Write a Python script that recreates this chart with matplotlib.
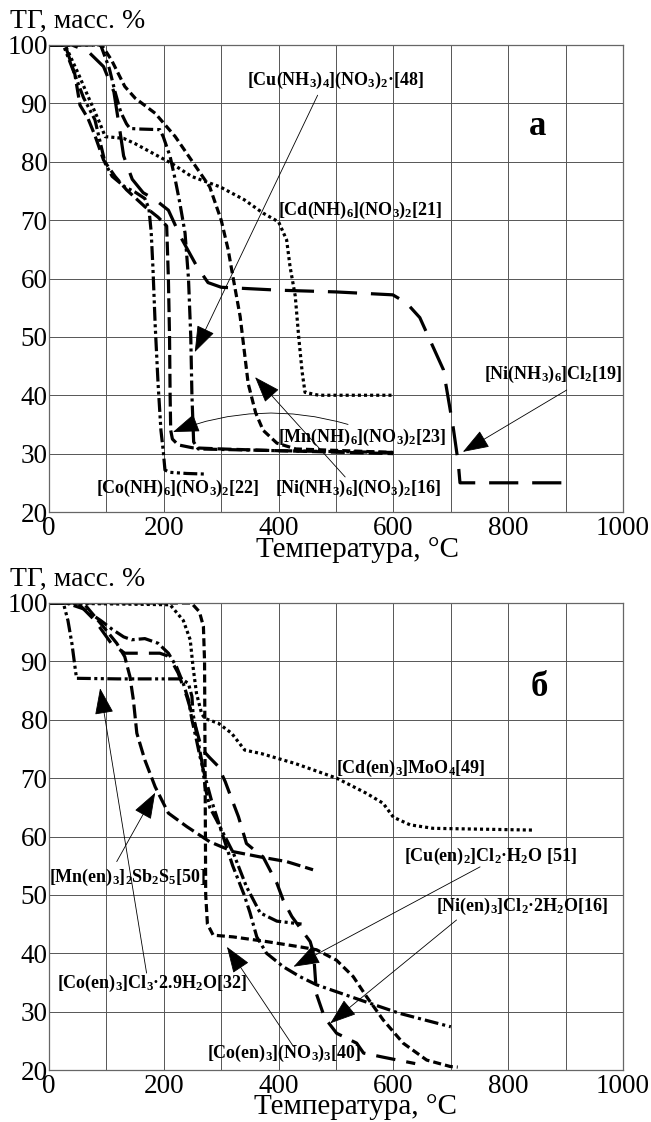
import matplotlib
matplotlib.use("Agg")
import matplotlib.pyplot as plt

plt.rcParams['font.family'] = ['Liberation Serif', 'DejaVu Serif']
plt.rcParams['mathtext.fontset'] = 'custom'
plt.rcParams['mathtext.rm'] = 'Liberation Serif:bold'
plt.rcParams['mathtext.it'] = 'Liberation Serif:bold'
plt.rcParams['mathtext.bf'] = 'Liberation Serif:bold'
plt.rcParams['mathtext.default'] = 'rm'
plt.rcParams['lines.scale_dashes'] = False

# ---------------- panel a data ----------------
cd21_T = [0, 28, 51, 68, 86, 98, 110, 130, 150, 180, 214, 248, 298, 340, 373, 400, 414, 420, 429, 435, 441, 446, 470, 600]
cd21_m = [100, 100, 95.1, 91.2, 87.2, 84.3, 84.2, 84, 83.1, 81.5, 79.7, 77.5, 75.7, 73.5, 71.2, 69.7, 66.6, 62, 57, 50, 44, 40.5, 40, 40]

cu48_T = [0, 90, 105, 115, 125, 135, 141, 160, 193, 199, 211, 220, 228, 237, 243, 247, 249, 252, 260, 400, 600]
cu48_m = [100, 100, 96, 92, 88.5, 86.5, 85.7, 85.6, 85.5, 84.3, 80.9, 76.9, 72.9, 67.8, 60, 50, 40, 32, 30.8, 30.5, 30.2]

ni16_T = [0, 92, 109, 132, 150, 185, 220, 250, 280, 300, 312, 321, 333, 347, 360, 373, 397, 430, 600]
ni16_m = [100, 100, 97.4, 92.9, 90.9, 88.3, 84.3, 80, 75.7, 70, 65, 60, 53.5, 42, 37, 34, 31.8, 30.8, 30.2]

mn23_T = [0, 28, 45, 54, 68, 80, 95, 115, 135, 167, 190, 205, 208, 210, 211, 212, 215, 225, 250, 300, 400, 600]
mn23_m = [100, 100, 95, 89.7, 87.4, 84.5, 80.3, 77.5, 75.2, 72.3, 70.5, 69, 60, 50, 40, 34, 32.5, 31.5, 31, 30.8, 30.5, 30]

co22_T = [0, 25, 42, 60, 80, 90, 98, 110, 132, 150, 167, 174, 178, 181, 185, 190, 195, 199, 202, 210, 240, 272]
co22_m = [100, 100, 95.7, 91, 87.2, 83, 79.7, 77.5, 75.7, 74.8, 73.7, 72, 68, 62, 52, 42, 34, 30.5, 27.2, 26.8, 26.6, 26.5]

ni19_T = [0, 40, 68, 95, 113, 124, 130, 145, 164, 185, 208, 230, 258, 277, 300, 400, 500, 599, 623, 646, 669, 687, 704, 713, 716, 800, 900]
ni19_m = [100, 100, 98.9, 96.3, 92, 85, 81, 77, 74.7, 73.5, 71.7, 67, 62, 59.3, 58.5, 58, 57.7, 57.2, 55.8, 53.3, 48.3, 44.4, 34.6, 28.4, 25, 25, 25]

# ---------------- panel b data ----------------
cden_T = [0, 211, 234, 246, 251, 257, 266, 272, 295, 318, 341, 370, 429, 501, 553, 582, 600, 629, 669, 843]
cden_m = [100, 99.7, 97, 93.7, 89, 84.5, 81, 80.2, 79.4, 77.7, 74.8, 74.2, 72.5, 70, 67.4, 65.7, 63.3, 62, 61.4, 61.1]

coNO3_T = [0, 248, 262, 269, 271, 272, 273, 276, 286, 321, 379, 437, 466, 501, 530, 553, 582, 617, 658, 699, 712]
coNO3_m = [100, 100, 98.5, 96, 90, 70, 50, 45, 43.1, 42.8, 42, 41.1, 40.6, 38.8, 36, 32.6, 28.6, 24.6, 21.7, 20.6, 20.5]

mnen_T = [0, 60, 95, 118, 132, 141, 147, 153, 167, 185, 208, 240, 280, 321, 368, 414, 460]
mnen_m = [100, 100, 95.9, 93.1, 90.8, 87.4, 83.4, 77.7, 73.1, 68.5, 64, 61.7, 59.1, 57.4, 56.5, 55.7, 54.3]

coCl_T = [0, 25, 33, 40, 46, 48, 120, 231, 243, 249, 251, 257, 266, 272, 280, 292, 321, 344, 368, 397, 440]
coCl_m = [100, 100, 97, 93, 88.5, 87.1, 87, 87, 86.2, 84, 81, 77.7, 73, 68.5, 65, 62.8, 57.2, 51.4, 46.9, 45.5, 45]

cuen_T = [0, 30, 60, 90, 110, 130, 144, 167, 190, 208, 222, 234, 243, 249, 257, 263, 272, 283, 300, 320, 340, 350, 362, 379, 408, 437, 466, 542, 611, 700]
cuen_m = [100, 100, 99, 97, 95.5, 94.2, 93.7, 93.9, 93.1, 91.4, 89.1, 86.2, 83.4, 80, 76.5, 73.7, 70.2, 66.2, 61, 55, 50, 47, 42.8, 40, 37.7, 36, 34.6, 32, 29.7, 27.4]

nien_T = [0, 50, 80, 109, 132, 150, 164, 193, 205, 214, 225, 240, 255, 266, 280, 295, 307, 318, 330, 344, 360, 373, 397, 408, 423, 440, 455, 461, 466, 480, 501, 536, 548, 582, 638]
nien_m = [100, 100, 97, 93, 91.4, 91.4, 91.4, 91.4, 91, 90, 88, 84, 79, 75, 73.5, 72, 69.4, 66.5, 63.4, 58.8, 57.5, 56.5, 52, 49.1, 46.3, 44, 42, 40, 33, 29, 26.3, 24.6, 22.9, 22.2, 21.1]

x_ticks = [0, 200, 400, 600, 800, 1000]
y_ticks = [20, 30, 40, 50, 60, 70, 80, 90, 100]

DOT = (0, (2.2, 2.2))
SDASH = (0, (5.8, 2.9))
LDASH = (0, (10, 3.6))
DASHDOT = (0, (10, 2.9, 2.2, 2.9))
DASHDOTDOT = (0, (10, 2.5, 2.2, 2.5, 2.2, 2.5))
XLDASH = (0, (21, 10))
BDASH = (0, (14, 8))

LW = 2.3
W, H = 651, 1122
fig = plt.figure(figsize=(W / 100, H / 100), dpi=100)

def make_ax(top_px):
    ax = fig.add_axes([49 / W, 1 - (top_px + 467) / H, 574 / W, 467 / H])
    ax.set_xlim(0, 1000)
    ax.set_ylim(20, 100)
    ax.set_xticks(range(0, 1001, 100), minor=False)
    ax.set_xticklabels([str(v) if v in x_ticks else '' for v in range(0, 1001, 100)])
    ax.set_yticks(y_ticks)
    ax.grid(True, color='#555555', lw=0.7)
    ax.set_axisbelow(True)
    for s in ax.spines.values():
        s.set_color('#666666')
        s.set_linewidth(0.9)
    ax.tick_params(length=0, labelsize=19.5)
    ax.tick_params(axis='y', pad=1)
    ax.tick_params(axis='x', pad=3)
    return ax

def curve(ax, T, m, ls):
    ax.plot(T, m, color='black', lw=LW, linestyle=ls, dash_capstyle='butt',
            solid_capstyle='butt')

def note(ax, text, xy, ha='center'):
    ax.text(xy[0], xy[1], text, fontsize=13, ha=ha, va='center')

def arrow(ax, start, end, rad=0.0):
    ax.annotate('', xy=end, xytext=start,
                arrowprops=dict(arrowstyle='-|>,head_length=1.4,head_width=0.5',
                                color='black', lw=0.6, shrinkA=0, shrinkB=0,
                                mutation_scale=12,
                                connectionstyle='arc3,rad=%g' % rad))

# ---------------- panel a ----------------
axa = make_ax(45)
curve(axa, cd21_T, cd21_m, DOT)
curve(axa, cu48_T, cu48_m, DASHDOT)
curve(axa, ni16_T, ni16_m, SDASH)
curve(axa, mn23_T, mn23_m, LDASH)
curve(axa, co22_T, co22_m, DASHDOTDOT)
curve(axa, ni19_T, ni19_m, XLDASH)

note(axa, r'$[Cu(NH_3)_4](NO_3)_2{·}[48]$', (500, 94))
note(axa, r'$[Cd(NH)_6](NO_3)_2[21]$', (542, 71.7))
note(axa, r'$[Ni(NH_3)_6]Cl_2[19]$', (878, 43.5))
note(axa, r'$[Mn(NH)_6](NO_3)_2[23]$', (546, 32.7))
note(axa, r'$[Ni(NH_3)_6](NO_3)_2[16]$', (539, 24.1))
note(axa, r'$[Co(NH)_6](NO_3)_2[22]$', (225, 24.1))
axa.text(852, 86, 'а', fontsize=25, fontweight='bold', ha='center', va='center')

arrow(axa, (468, 91.4), (254, 47.4))
arrow(axa, (902, 40.9), (721, 30.3))
arrow(axa, (521, 35), (216, 33.7), rad=0.17)
arrow(axa, (516, 26), (359, 43.1))

# ---------------- panel b ----------------
axb = make_ax(603)
curve(axb, cden_T, cden_m, DOT)
curve(axb, coNO3_T, coNO3_m, SDASH)
curve(axb, mnen_T, mnen_m, LDASH)
curve(axb, coCl_T, coCl_m, DASHDOTDOT)
curve(axb, cuen_T, cuen_m, DASHDOT)
curve(axb, nien_T, nien_m, BDASH)

note(axb, r'$[Cd(en)_3]MoO_4[49]$', (630, 71.7))
note(axb, r'$[Cu(en)_2]Cl_2{·}H_2O\ [51]$', (770, 56.5))
note(axb, r'$[Ni(en)_3]Cl_2{·}2H_2O[16]$', (825, 48))
note(axb, r'$[Mn(en)_3]_2Sb_2S_5[50]$', (137, 53))
note(axb, r'$[Co(en)_3]Cl_3{·}2.9H_2O[32]$', (179, 34.9))
note(axb, r'$[Co(en)_3](NO_3)_3[40]$', (410, 22.9))
axb.text(855, 85.6, 'б', fontsize=25, fontweight='bold', ha='center', va='center')

arrow(axb, (751, 54.8), (426, 37.7))
arrow(axb, (710, 45.7), (490, 28))
arrow(axb, (118, 55.7), (185, 67.5))
arrow(axb, (170, 36.6), (89, 85.4))
arrow(axb, (426, 24), (310, 41.1))

# axis titles
for ytop in (28, 586):
    fig.text(10 / W, 1 - ytop / H, 'ТГ, масс. %', fontsize=20, ha='left', va='baseline')
fig.text(358 / W, 1 - 557 / H, 'Температура, °C', fontsize=21, ha='center', va='baseline')
fig.text(355 / W, 1 - 1114 / H, 'Температура, °C', fontsize=21, ha='center', va='baseline')

fig.savefig('out.png', dpi=100)
